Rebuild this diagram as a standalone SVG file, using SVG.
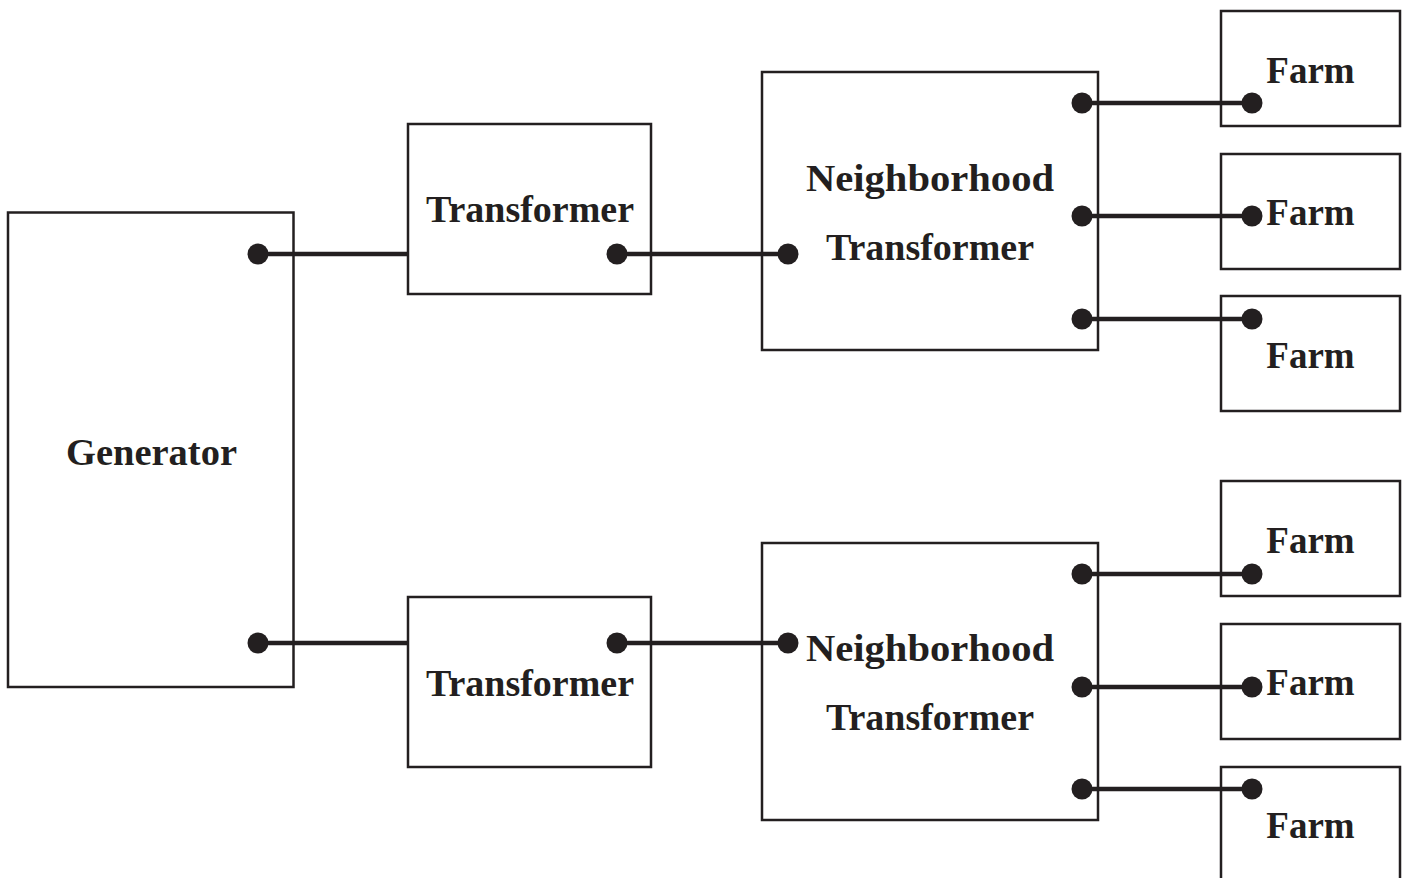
<svg xmlns="http://www.w3.org/2000/svg" width="1404" height="878" viewBox="0 0 1404 878">
<style>
.box{fill:none;stroke:#231f20;stroke-width:2.5}
.lbl{font-family:"Liberation Serif","DejaVu Serif",serif;font-weight:bold;font-size:37px;fill:#231f20;text-anchor:middle}
.wire{stroke:#231f20;stroke-width:4.5;fill:none}
.dot{fill:#231f20}
</style>
<rect width="1404" height="878" fill="#fff"/>
<g id="generator"><rect class="box" x="8" y="212.5" width="285.5" height="474.5"/><text class="lbl" x="151.5" y="465" textLength="171" lengthAdjust="spacingAndGlyphs">Generator</text></g>
<g id="transformer1"><rect class="box" x="408" y="124" width="243" height="170"/><text class="lbl" x="530" y="222" textLength="208" lengthAdjust="spacingAndGlyphs">Transformer</text></g>
<g id="transformer2"><rect class="box" x="408" y="597" width="243" height="170"/><text class="lbl" x="530" y="696" textLength="208" lengthAdjust="spacingAndGlyphs">Transformer</text></g>
<g id="nt1"><rect class="box" x="762" y="72" width="336" height="278"/><text class="lbl" x="930" y="191" textLength="248" lengthAdjust="spacingAndGlyphs">Neighborhood</text><text class="lbl" x="930" y="260" textLength="208" lengthAdjust="spacingAndGlyphs">Transformer</text></g>
<g id="nt2"><rect class="box" x="762" y="543" width="336" height="277"/><text class="lbl" x="930" y="661" textLength="248" lengthAdjust="spacingAndGlyphs">Neighborhood</text><text class="lbl" x="930" y="730" textLength="208" lengthAdjust="spacingAndGlyphs">Transformer</text></g>
<g id="farm1"><rect class="box" x="1221" y="11" width="179" height="115"/><text class="lbl" x="1310.5" y="83">Farm</text></g>
<g id="farm2"><rect class="box" x="1221" y="154" width="179" height="115"/><text class="lbl" x="1310.5" y="225">Farm</text></g>
<g id="farm3"><rect class="box" x="1221" y="296" width="179" height="115"/><text class="lbl" x="1310.5" y="368">Farm</text></g>
<g id="farm4"><rect class="box" x="1221" y="481" width="179" height="115"/><text class="lbl" x="1310.5" y="553">Farm</text></g>
<g id="farm5"><rect class="box" x="1221" y="624" width="179" height="115"/><text class="lbl" x="1310.5" y="695">Farm</text></g>
<g id="farm6"><rect class="box" x="1221" y="767" width="179" height="120"/><text class="lbl" x="1310.5" y="838">Farm</text></g>
<g id="connectors">
<path class="wire" d="M258 254H408M617 254H788M258 643H408M617 643H788M1082 103H1252M1082 216H1252M1082 319H1252M1082 574H1252M1082 687H1252M1082 789H1252"/>
<circle class="dot" cx="258" cy="254" r="10.5"/><circle class="dot" cx="617" cy="254" r="10.5"/><circle class="dot" cx="788" cy="254" r="10.5"/>
<circle class="dot" cx="258" cy="643" r="10.5"/><circle class="dot" cx="617" cy="643" r="10.5"/><circle class="dot" cx="788" cy="643" r="10.5"/>
<circle class="dot" cx="1082" cy="103" r="10.5"/><circle class="dot" cx="1252" cy="103" r="10.5"/>
<circle class="dot" cx="1082" cy="216" r="10.5"/><circle class="dot" cx="1252" cy="216" r="10.5"/>
<circle class="dot" cx="1082" cy="319" r="10.5"/><circle class="dot" cx="1252" cy="319" r="10.5"/>
<circle class="dot" cx="1082" cy="574" r="10.5"/><circle class="dot" cx="1252" cy="574" r="10.5"/>
<circle class="dot" cx="1082" cy="687" r="10.5"/><circle class="dot" cx="1252" cy="687" r="10.5"/>
<circle class="dot" cx="1082" cy="789" r="10.5"/><circle class="dot" cx="1252" cy="789" r="10.5"/>
</g>
</svg>
